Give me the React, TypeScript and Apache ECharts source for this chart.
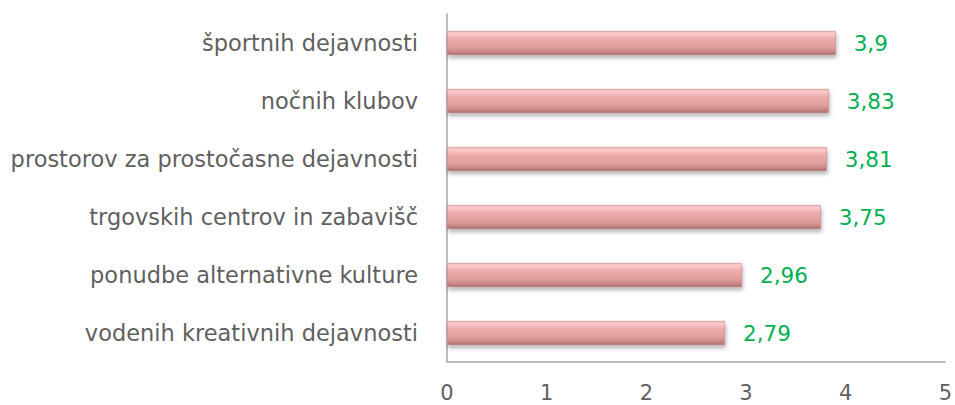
import React, { useEffect, useRef } from "react";
import * as echarts from "echarts";

const categories = [
  "športnih dejavnosti",
  "nočnih klubov",
  "prostorov za prostočasne dejavnosti",
  "trgovskih centrov in zabavišč",
  "ponudbe alternativne kulture",
  "vodenih kreativnih dejavnosti",
];
const values = [3.9, 3.83, 3.81, 3.75, 2.96, 2.79];
const xTicks = [0, 1, 2, 3, 4, 5];

export default function App() {
  const ref = useRef<HTMLDivElement>(null);
  useEffect(() => {
    if (!ref.current) return;
    const chart = echarts.init(ref.current, undefined, { renderer: "svg" });
    const font = "'DejaVu Sans', sans-serif";
    chart.setOption({
      animation: false,
      grid: { left: 447, right: 7, top: 14, bottom: 43, containLabel: false },
      xAxis: {
        type: "value",
        min: xTicks[0],
        max: xTicks[xTicks.length - 1],
        interval: 1,
        axisLine: { show: true, lineStyle: { color: "#a6a6a6", width: 1.5 } },
        axisTick: { show: false },
        splitLine: { show: false },
        axisLabel: { color: "#5f5f5f", fontSize: 21, fontFamily: font, margin: 20 },
      },
      yAxis: {
        type: "category",
        inverse: true,
        data: categories,
        axisLine: { show: true, lineStyle: { color: "#a6a6a6", width: 1.5 } },
        axisTick: { show: false },
        axisLabel: { color: "#5f5f5f", fontSize: 22.5, fontFamily: font, margin: 29 },
      },
      series: [
        {
          type: "bar",
          data: values,
          barWidth: 24,
          itemStyle: {
            color: new echarts.graphic.LinearGradient(0, 0, 0, 1, [
              { offset: 0, color: "#f4bcbc" },
              { offset: 0.12, color: "#fbcaca" },
              { offset: 0.3, color: "#eeaeae" },
              { offset: 0.7, color: "#df9c9c" },
              { offset: 0.88, color: "#c98686" },
              { offset: 1, color: "#a66c6c" },
            ]),
            borderColor: "#b97a7a",
            borderWidth: 0.5,
            shadowColor: "rgba(0,0,0,0.3)",
            shadowBlur: 4,
            shadowOffsetY: 3,
            shadowOffsetX: 1,
          },
          label: {
            show: true,
            position: "right",
            distance: 18,
            color: "#00b050",
            fontSize: 21.5,
            fontFamily: font,
            formatter: (p: any) => String(p.value).replace(".", ","),
          },
        },
      ],
    });
    return () => chart.dispose();
  }, []);
  return <div ref={ref} style={{ width: 955, height: 405, position: "absolute", left: 0, top: 0 }} />;
}
